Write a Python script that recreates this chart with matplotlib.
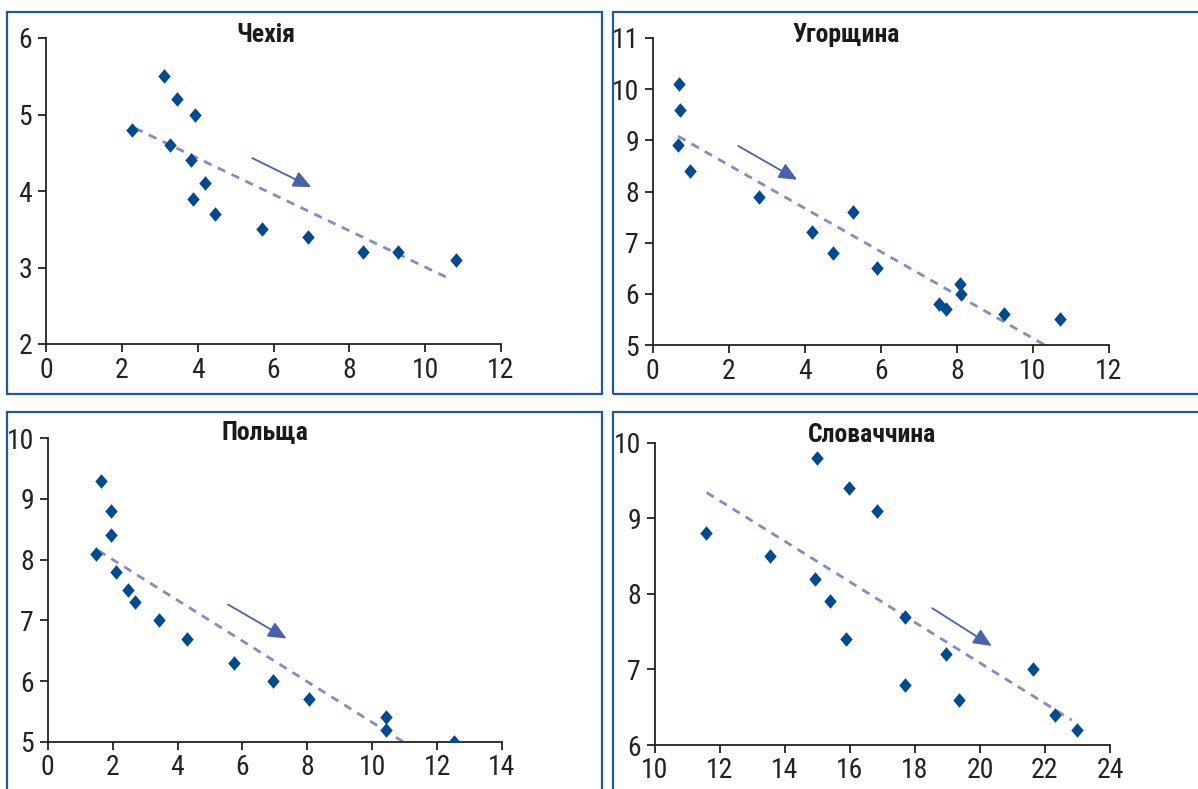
import matplotlib
matplotlib.use('Agg')
import matplotlib.pyplot as plt
from matplotlib import font_manager
from matplotlib.patches import Rectangle

# шукаємо вузький шрифт, якщо такий є
installed = {f.name for f in font_manager.fontManager.ttflist}
candidates = ['Liberation Sans Narrow', 'Roboto Condensed', 'DejaVu Sans Condensed',
              'Open Sans Condensed', 'Noto Sans Display', 'Roboto', 'Liberation Sans']
font_name = next((c for c in candidates if c in installed), 'DejaVu Sans')
plt.rcParams['font.family'] = [font_name, 'DejaVu Sans']

# Чехія
cz_x = [2.26, 3.12, 3.46, 3.94, 3.26, 3.82, 4.20, 3.87, 4.47, 5.70, 6.92, 8.35, 9.28, 10.80]
cz_y = [4.8, 5.5, 5.2, 5.0, 4.6, 4.4, 4.1, 3.9, 3.7, 3.5, 3.4, 3.2, 3.2, 3.1]
cz_trend_x = [2.35, 10.70]
cz_trend_y = [4.82, 2.84]
cz_arrow = [(5.44, 4.43), (7.0, 4.05)]

# Угорщина
hu_x = [0.69, 0.72, 0.67, 0.99, 2.79, 4.18, 4.74, 5.26, 5.89, 7.54, 7.71, 8.08, 8.12, 9.25, 10.72]
hu_y = [10.1, 9.6, 8.9, 8.4, 7.9, 7.2, 6.8, 7.6, 6.5, 5.8, 5.7, 6.2, 6.0, 5.6, 5.5]
hu_trend_x = [0.67, 10.31]
hu_trend_y = [9.08, 5.0]
hu_arrow = [(2.25, 8.89), (3.80, 8.23)]

# Польща
pl_x = [1.63, 1.94, 1.94, 1.49, 2.11, 2.48, 2.68, 3.43, 4.28, 5.75, 6.93, 8.06, 10.44, 10.41, 12.52]
pl_y = [9.3, 8.8, 8.4, 8.1, 7.8, 7.5, 7.3, 7.0, 6.7, 6.3, 6.0, 5.7, 5.4, 5.2, 5.0]
pl_trend_x = [1.56, 10.95]
pl_trend_y = [8.15, 5.0]
pl_arrow = [(5.56, 7.26), (7.36, 6.70)]

# Словаччина
sk_x = [11.57, 13.55, 14.99, 15.96, 16.83, 14.93, 15.37, 15.88, 17.70, 17.68, 18.96, 19.34, 21.64, 22.30, 22.98]
sk_y = [8.8, 8.5, 9.8, 9.4, 9.1, 8.2, 7.9, 7.4, 7.7, 6.8, 7.2, 6.6, 7.0, 6.4, 6.2]
sk_trend_x = [11.59, 22.82]
sk_trend_y = [9.34, 6.33]
sk_arrow = [(18.53, 7.81), (20.36, 7.31)]

W, H = 1198, 789
fig = plt.figure(figsize=(W / 100, H / 100), dpi=100)

border_color = '#1d5a9c'
point_color = '#024a8f'
trend_color = '#7f8cc8'
arrow_color = '#4a62ab'

# ромб трохи витягнутий по вертикалі
diamond = [(0, 1), (0.85, 0), (0, -1), (-0.85, 0), (0, 1)]

# рамки навколо панелей (у пікселях)
for (x0, y0, x1, y1) in [(7, 12, 602, 394), (613, 12, 1205, 394),
                         (7, 412, 602, 800), (613, 412, 1205, 800)]:
    fig.patches.append(Rectangle((x0 / W, 1 - y1 / H), (x1 - x0) / W, (y1 - y0) / H,
                                 transform=fig.transFigure, fill=False,
                                 edgecolor=border_color, linewidth=1.6))

panels = [
    dict(title='Чехія', x=cz_x, y=cz_y, tx=cz_trend_x, ty=cz_trend_y, arrow=cz_arrow,
         xlim=(0, 12), xticks=range(0, 13, 2), ylim=(2, 6), yticks=range(2, 7),
         px=(46, 501, 38, 344), title_pos=(0.483, 1.011)),
    dict(title='Угорщина', x=hu_x, y=hu_y, tx=hu_trend_x, ty=hu_trend_y, arrow=hu_arrow,
         xlim=(0, 12), xticks=range(0, 13, 2), ylim=(5, 11), yticks=range(5, 12),
         px=(652.7, 1109, 38, 345), title_pos=(0.425, 1.011)),
    dict(title='Польща', x=pl_x, y=pl_y, tx=pl_trend_x, ty=pl_trend_y, arrow=pl_arrow,
         xlim=(0, 14), xticks=range(0, 15, 2), ylim=(5, 10), yticks=range(5, 11),
         px=(47.7, 502, 438.3, 741.7), title_pos=(0.479, 1.017)),
    dict(title='Словаччина', x=sk_x, y=sk_y, tx=sk_trend_x, ty=sk_trend_y, arrow=sk_arrow,
         xlim=(10, 24), xticks=range(10, 25, 2), ylim=(6, 10), yticks=range(6, 11),
         px=(655, 1110, 442.7, 745), title_pos=(0.476, 1.025)),
]

for p in panels:
    l, r, t, b = p['px']
    ax = fig.add_axes([l / W, 1 - b / H, (r - l) / W, (b - t) / H])
    ax.set_facecolor('none')

    ax.plot(p['tx'], p['ty'], color=trend_color, linewidth=2, dashes=(3, 2.5), zorder=2)
    ax.scatter(p['x'], p['y'], marker=diamond, s=110, color=point_color, zorder=3, linewidths=0)
    (ax0, ay0), (ax1, ay1) = p['arrow']
    ax.annotate('', xy=(ax1, ay1), xytext=(ax0, ay0),
                arrowprops=dict(arrowstyle='-|>,head_length=1.0,head_width=0.45',
                                mutation_scale=11, color=arrow_color, linewidth=1.3,
                                shrinkA=0, shrinkB=0))

    ax.set_xlim(*p['xlim'])
    ax.set_ylim(*p['ylim'])
    ax.set_xticks(list(p['xticks']))
    ax.set_yticks(list(p['yticks']))
    for s in ['top', 'right']:
        ax.spines[s].set_visible(False)
    for s in ['left', 'bottom']:
        ax.spines[s].set_linewidth(1.3)
        ax.spines[s].set_color('#222222')
    ax.tick_params(direction='out', length=6, width=1.3, labelsize=20, pad=3, colors='#222222')
    ax.tick_params(axis='y', pad=4)
    ax.text(p['title_pos'][0], p['title_pos'][1], p['title'], transform=ax.transAxes,
            ha='center', va='center', fontsize=18.5, fontweight='bold', color='#1a1a1a')

fig.savefig('out.png', dpi=100)
